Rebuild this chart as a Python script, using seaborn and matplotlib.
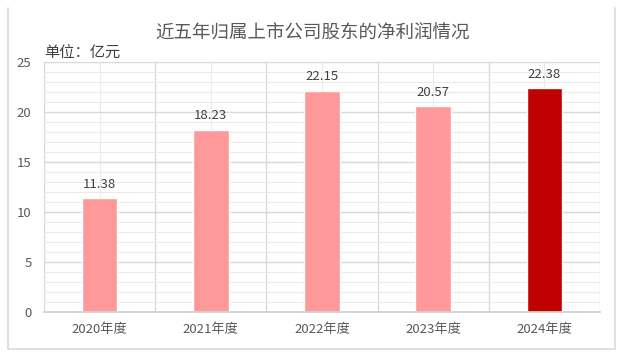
import matplotlib
matplotlib.use("Agg")
import matplotlib.pyplot as plt
import seaborn as sns
from matplotlib.lines import Line2D
from matplotlib.ticker import MultipleLocator, FixedLocator

# data
years = ["2020年度", "2021年度", "2022年度", "2023年度", "2024年度"]
profit = [11.38, 18.23, 22.15, 20.57, 22.38]
bar_colors = ["#FF9999", "#FF9999", "#FF9999", "#FF9999", "#C00000"]

sns.set_theme(style="white")
plt.rcParams['font.family'] = ['Noto Sans CJK SC', 'DejaVu Sans']

fig = plt.figure(figsize=(6.25, 3.56), dpi=100)
ax = fig.add_axes([0.0704, 0.1236, 0.8896, 0.7022])

sns.barplot(x=years, y=profit, hue=years, palette=bar_colors, width=0.32,
            legend=False, ax=ax, saturation=1)

ax.set_xlim(-0.5, 4.5)
ax.set_ylim(0, 25)
ax.yaxis.set_major_locator(MultipleLocator(5))
ax.yaxis.set_minor_locator(MultipleLocator(1))
ax.xaxis.set_minor_locator(FixedLocator([i - 0.5 for i in range(len(years) + 1)]))

ax.grid(which="major", axis="y", color="#D9D9D9", lw=1)
ax.grid(which="minor", axis="y", color="#EAEAEA", lw=0.8)
ax.grid(which="minor", axis="x", color="#D9D9D9", lw=1)
ax.grid(which="major", axis="x", color="#EAEAEA", lw=0.8)
ax.set_axisbelow(True)

for s in ["top", "right", "left"]:
    ax.spines[s].set_visible(False)
ax.spines["bottom"].set_color("#D0D0D0")
ax.tick_params(which="both", length=0)
ax.tick_params(axis="y", pad=9, labelsize=9.5, labelcolor="#595959")
ax.tick_params(axis="x", pad=8, labelsize=9.5, labelcolor="#595959")
ax.set_xlabel("")
ax.set_ylabel("")

for i, v in enumerate(profit):
    ax.text(i, v + 0.75, f"{v:.2f}", ha="center", va="bottom",
            fontsize=9.5, color="#404040")

fig.text(0.5, 0.905, "近五年归属上市公司股东的净利润情况", ha="center",
         va="center", fontsize=13.3, color="#595959")
fig.text(0.0704, 0.85, "单位：亿元", ha="left", va="center",
         fontsize=11, color="#404040")

# chart frame
frame = dict(color="#D9D9D9", lw=1.2, transform=fig.transFigure)
fig.add_artist(Line2D([0.012, 0.012], [0.02, 0.977], **frame))
fig.add_artist(Line2D([0.984, 0.984], [0.02, 0.977], **frame))
fig.add_artist(Line2D([0.012, 0.984], [0.02, 0.02], **frame))

fig.savefig("out.png", dpi=100)
